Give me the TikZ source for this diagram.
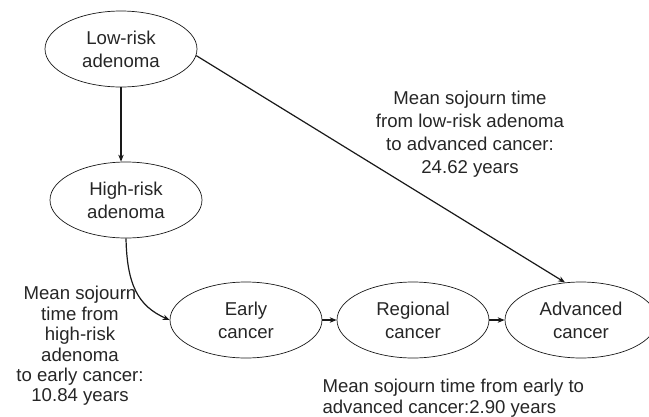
\documentclass[tikz,border=0pt]{standalone}
\usepackage{fontspec}
\setmainfont{Liberation Sans}
\usetikzlibrary{shapes.geometric,arrows.meta,calc}
\begin{document}
\begin{tikzpicture}[x=1pt,y=-1pt,
  st/.style={ellipse,draw=black!90,line width=0.7pt,minimum width=152pt,minimum height=76pt,inner sep=0pt,align=center,font=\fontsize{18.6}{23}\selectfont,text=black!85},
  lblw/.style={align=center,font=\fontsize{18.6}{23}\selectfont,text=black!85},
  lbln/.style={align=center,font=\fontsize{18.6}{20.4}\selectfont,text=black!85},
  arr/.style={-{Stealth[length=7pt,width=5.5pt]},line width=1.2pt,draw=black!90}]
\useasboundingbox (0,0) rectangle (649,416);
\node[st] (low) at (121,49) {Low-risk\\adenoma};
\node[st] (high) at (126,200) {High-risk\\adenoma};
\node[st] (early) at (246,320) {Early\\cancer};
\node[st] (reg) at (413,320) {Regional\\cancer};
\node[st] (adv) at (581,320) {Advanced\\cancer};
\node[lblw] (l1) at (470,134) {Mean sojourn time\\from low-risk adenoma\\to advanced cancer:\\24.62 years};
\node[lbln] (l2) at (80,346) {Mean sojourn\\time from\\high-risk\\adenoma\\to early cancer:\\10.84 years};
\node[lbln,align=left,anchor=west] (l3) at (319,398) {Mean sojourn time from early to\\advanced cancer:2.90 years};
\draw[arr] (low.south) -- (low.south |- high.north);
\draw[arr] (high.south) .. controls (127,285) and (138,306) .. (early.west);
\draw[arr] (low.-5) -- (adv.113);
\draw[arr] (early) -- (reg);
\draw[arr] (reg) -- (adv);
\end{tikzpicture}
\end{document}
